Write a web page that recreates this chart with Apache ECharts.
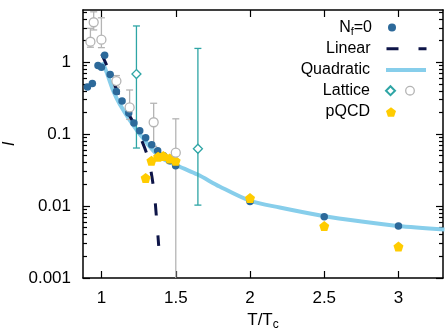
<!DOCTYPE html>
<html><head><meta charset="utf-8">
<script src="https://cdn.jsdelivr.net/npm/echarts@6/dist/echarts.min.js"></script>
<style>html,body{margin:0;padding:0;background:#fff}#c{width:445px;height:334px}</style>
</head><body><div id="c"></div>
<script>
// ---- data ----
const xTicks = [1, 1.5, 2, 2.5, 3];
const xTickLabels = ['1', '1.5', '2', '2.5', '3'];
const yTicks = [0.001, 0.01, 0.1, 1];
const yTickLabels = ['0.001', '0.01', '0.1', '1'];
const yMinorTicks = [0.002,0.003,0.004,0.005,0.006,0.007,0.008,0.009,
                     0.02,0.03,0.04,0.05,0.06,0.07,0.08,0.09,
                     0.2,0.3,0.4,0.5,0.6,0.7,0.8,0.9,2,3,4,5];

const nfT = [0.905,0.938,0.976,0.999,1.021,1.058,1.100,1.138,1.183,1.218,1.257,1.297,1.338,1.378,1.418,1.458,1.499,2.0,2.5,3.0];
const nfI = [0.451,0.504,0.895,0.847,1.25,0.672,0.39,0.288,0.197,0.142,0.111,0.0886,0.0709,0.0585,0.0499,0.0425,0.0363,0.0116,0.00711,0.00527];

const linT = [1.001,1.055,1.136,1.223,1.311,1.352,1.372,1.385];
const linI = [1.29,0.727,0.280,0.134,0.0484,0.0170,0.00612,0.0028];

const quadT = [1.008,1.041,1.082,1.122,1.189,1.277,1.391,1.524,1.647,1.795,1.997,2.20,2.503,2.74,2.994,3.31];
const quadI = [1.0,0.661,0.384,0.262,0.158,0.0886,0.0484,0.0354,0.0274,0.0187,0.0119,0.00955,0.00723,0.00613,0.00528,0.00473];

const latTealT  = [1.235, 1.649];
const latTealI  = [0.682, 0.0626];
const latTealLo = [0.064, 0.0103];
const latTealHi = [3.18, 1.55];

const latGrayT  = [0.925, 0.947, 0.999, 1.100, 1.189, 1.351, 1.500];
const latGrayI  = [1.92, 3.58, 2.05, 0.546, 0.235, 0.146, 0.0551];
const latGrayLo = [1.61, 2.8, 1.59, 0.45, 0.16, 0.0676, 0.0005];
const latGrayHi = [2.95, 5.0, 4.13, 0.65, 0.41, 0.268, 0.163];

const pqcdT = [1.297,1.336,1.381,1.416,1.459,1.499,2.0,2.5,3.0];
const pqcdI = [0.0246,0.0427,0.0485,0.0496,0.0458,0.0425,0.0129,0.00527,0.00273];

// ---- styling ----
const FONT = '"Liberation Sans", Arial, Helvetica, sans-serif';
const C_NF = '#2c699a', C_LIN = '#0e1548', C_QUAD = '#87ceeb', C_TEAL = '#2ea5a5', C_GRAY = '#b4b4b4', C_PQCD = '#ffcc00';
const PENT = 'path://M0,-10 L9.51,-3.09 L5.88,8.09 L-5.88,8.09 L-9.51,-3.09 Z';

const zip = (a, b) => a.map((v, i) => [v, b[i]]);
const zip3 = (a, b, c) => a.map((v, i) => [v, b[i], c[i]]);

function errRender(color) {
  return function (params, api) {
    const x = api.value(0), lo = api.value(1), hi = api.value(2);
    const cs = params.coordSys;
    const top = cs.y, bot = cs.y + cs.height;
    const p1 = api.coord([x, hi]), p2 = api.coord([x, lo]);
    let y1 = p1[1], y2 = p2[1];
    const cx = p1[0];
    const capHi = y1 >= top - 0.5, capLo = y2 <= bot + 0.5;
    y1 = Math.max(y1, top); y2 = Math.min(y2, bot);
    const st = { stroke: color, lineWidth: 1.3 };
    const ch = [{ type: 'line', shape: { x1: cx, y1: y1, x2: cx, y2: y2 }, style: st }];
    if (capHi) ch.push({ type: 'line', shape: { x1: cx - 3.5, y1: y1, x2: cx + 3.5, y2: y1 }, style: st });
    if (capLo) ch.push({ type: 'line', shape: { x1: cx - 3.5, y1: y2, x2: cx + 3.5, y2: y2 }, style: st });
    return { type: 'group', children: ch };
  };
}

function yAx(pos, major) {
  const o = {
    type: 'log', logBase: 10, min: 0.001, max: 5.3, position: pos,
    axisLine: { show: major, lineStyle: { color: '#000', width: 1.5 } },
    axisTick: { show: true, inside: true, length: major ? 7 : 4,
                customValues: major ? yTicks : yMinorTicks,
                lineStyle: { color: '#000', width: 1.2 } },
    axisLabel: { show: false },
    splitLine: { show: false }
  };
  if (major && pos === 'left') {
    o.axisLabel = { show: true, customValues: yTicks, fontSize: 17, fontFamily: FONT, color: '#000', margin: 12,
      formatter: v => { let b = 0; yTicks.forEach((t, i) => { if (Math.abs(Math.log10(t) - Math.log10(v)) < 1e-6) b = i; }); return yTickLabels[b]; } };
    o.name = 'I'; o.nameLocation = 'middle'; o.nameGap = 50; o.nameRotate = 90;
    o.nameTextStyle = { fontStyle: 'italic', fontSize: 17, fontFamily: FONT, color: '#000' };
  }
  return o;
}

function xAx(pos) {
  const o = {
    type: 'value', min: 0.875, max: 3.3, position: pos,
    axisLine: { show: true, onZero: false, lineStyle: { color: '#000', width: 1.5 } },
    axisTick: { show: true, inside: true, length: 7, customValues: xTicks, lineStyle: { color: '#000', width: 1.2 } },
    axisLabel: { show: false },
    splitLine: { show: false }
  };
  if (pos === 'bottom') {
    o.axisLabel = { show: true, customValues: xTicks, fontSize: 17, fontFamily: FONT, color: '#000', margin: 12,
      formatter: v => { let b = 0; xTicks.forEach((t, i) => { if (Math.abs(t - v) < 1e-6) b = i; }); return xTickLabels[b]; } };
    o.name = '{a|T/T}{s|c}'; o.nameLocation = 'middle'; o.nameGap = 28;
    o.nameTextStyle = { fontFamily: FONT, color: '#000',
      rich: { a: { fontSize: 17, lineHeight: 20, fontFamily: FONT, color: '#000' },
              s: { fontSize: 12, lineHeight: 10, verticalAlign: 'bottom', fontFamily: FONT, color: '#000' } } };
  }
  return o;
}

function leg(name, top, right, iw, ih, lineW) {
  const o = {
    data: [name], top: top, right: right, orient: 'horizontal', align: 'right',
    itemWidth: iw, itemHeight: ih, padding: 0, selectedMode: false,
    textStyle: { fontSize: 16, fontFamily: FONT, color: '#000', lineHeight: 20, padding: [0, 11, 0, 0],
      rich: { a: { fontSize: 16, lineHeight: 20, fontFamily: FONT, color: '#000' },
              s: { fontSize: 11, lineHeight: 10, verticalAlign: 'bottom', fontFamily: FONT, color: '#000' } } },
    formatter: n => n === 'Nf=0' ? '{a|N}{s|f}{a|=0}' : n
  };
  if (lineW) {
    o.itemStyle = { color: 'rgba(0,0,0,0)', borderWidth: 0, borderColor: 'rgba(0,0,0,0)', opacity: 0 };
    o.lineStyle = { width: lineW };
  }
  return o;
}

const chart = echarts.init(document.getElementById('c'), null, { renderer: 'canvas' });
chart.setOption({
  animation: false,
  backgroundColor: '#fff',
  grid: { left: 83, right: 2, top: 10, bottom: 56, containLabel: false, outerBoundsMode: 'none' },
  xAxis: [xAx('bottom'), xAx('top')],
  yAxis: [yAx('left', true), yAx('left', false), yAx('right', true), yAx('right', false)],
  legend: [
    leg('Nf=0', 17.5, 49, 8, 8, 0),
    leg('Linear', 38.7, 17, 40, 14, 3),
    leg('Quadratic', 60, 17, 40, 14, 4),
    leg('Lattice', 80.7, 49, 9, 9, 0),
    leg('pQCD', 102, 49, 10, 10, 0)
  ],
  graphic: [
    { type: 'circle', shape: { cx: 410, cy: 90.7, r: 4.3 }, style: { fill: '#fff', stroke: C_GRAY, lineWidth: 1.3 }, z: 100 }
  ],
  series: [
    { name: 'Quadratic', type: 'line', data: zip(quadT, quadI), smooth: 0.3, symbol: 'none', showSymbol: false,
      lineStyle: { color: C_QUAD, width: 4 }, itemStyle: { color: C_QUAD }, z: 2 },
    { name: 'Linear', type: 'line', data: zip(linT, linI), smooth: 0.3, symbol: 'none', showSymbol: false,
      lineStyle: { color: C_LIN, width: 3, type: [12, 20] }, itemStyle: { color: C_LIN }, z: 4 },
    { name: 'grayErr', type: 'custom', renderItem: errRender(C_GRAY), data: zip3(latGrayT, latGrayLo, latGrayHi),
      encode: { x: 0, y: [1, 2] }, z: 3, silent: true },
    { name: 'tealErr', type: 'custom', renderItem: errRender(C_TEAL), data: zip3(latTealT, latTealLo, latTealHi),
      encode: { x: 0, y: [1, 2] }, z: 3, silent: true },
    { name: 'Nf=0', type: 'scatter', data: zip(nfT, nfI), symbol: 'circle', symbolSize: 7.5,
      itemStyle: { color: C_NF, opacity: 1 }, z: 5 },
    { name: 'pQCD', type: 'scatter', data: zip(pqcdT, pqcdI), symbol: PENT, symbolSize: 10,
      itemStyle: { color: C_PQCD, opacity: 1 }, z: 6 },
    { name: 'LatticeGray', type: 'scatter', data: zip(latGrayT, latGrayI), symbol: 'circle', symbolSize: 9,
      itemStyle: { color: '#fff', borderColor: C_GRAY, borderWidth: 1.3, opacity: 1 }, z: 7 },
    { name: 'Lattice', type: 'scatter', data: zip(latTealT, latTealI), symbol: 'diamond', symbolSize: 9,
      itemStyle: { color: '#fff', borderColor: C_TEAL, borderWidth: 1.3, opacity: 1 }, z: 7 }
  ]
});
</script>
</body></html>
